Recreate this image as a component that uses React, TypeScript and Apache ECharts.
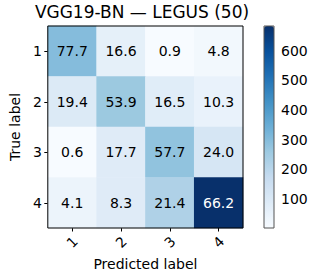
import React, { useEffect, useRef } from "react";
import * as echarts from "echarts";

const categories = ["1", "2", "3", "4"];
// counts (drive colour), rows = true label, cols = predicted label
const counts = [
  [300, 64, 4, 19],
  [94, 262, 80, 50],
  [3, 86, 280, 116],
  [42, 86, 221, 683],
];
// percentages shown in the cells
const percents = [
  [77.7, 16.6, 0.9, 4.8],
  [19.4, 53.9, 16.5, 10.3],
  [0.6, 17.7, 57.7, 24.0],
  [4.1, 8.3, 21.4, 66.2],
];
const colorbarTicks = [100, 200, 300, 400, 500, 600];
const titleText = "VGG19-BN — LEGUS (50)";

const BLUES = [
  "#f7fbff", "#deebf7", "#c6dbef", "#9ecae1", "#6baed6",
  "#4292c6", "#2171b5", "#08519c", "#08306b",
];
const FONT = "DejaVu Sans";

export default function App() {
  const ref = useRef<HTMLDivElement>(null);
  useEffect(() => {
    if (!ref.current) return;
    const chart = echarts.init(ref.current, null, { renderer: "svg" });
    const flat = counts.flat();
    const vmin = Math.min(...flat);
    const vmax = Math.max(...flat);
    const data: any[] = [];
    counts.forEach((row, r) =>
      row.forEach((c, col) => {
        data.push({
          value: [col, r, c],
          label: { color: c > vmax / 2 ? "#ffffff" : "#000000" },
        });
      })
    );
    chart.setOption({
      animation: false,
      backgroundColor: "#ffffff",
      textStyle: { fontFamily: FONT },
      title: {
        text: titleText,
        left: 142,
        textAlign: "center",
        top: 3,
        padding: 0,
        textStyle: { fontFamily: FONT, fontSize: 17, fontWeight: "normal", color: "#000" },
      },
      grid: [
        {
          left: 42, top: 26, width: 201, height: 202,
          show: true, borderColor: "#000", borderWidth: 1,
          backgroundColor: "transparent", z: 3,
        },
        {
          left: 264, top: 26, width: 10, height: 202,
          show: true, borderColor: "#555", borderWidth: 1,
          backgroundColor: "transparent", z: 10,
        },
      ],
      xAxis: [
        {
          type: "category",
          data: categories,
          gridIndex: 0,
          axisLine: { show: false },
          axisTick: { show: true, alignWithLabel: true, length: 3.5, lineStyle: { color: "#000" } },
          axisLabel: {
            rotate: 45, align: "center", verticalAlign: "middle", margin: 14,
            fontSize: 14, color: "#000", fontFamily: FONT,
          },
          name: "Predicted label",
          nameLocation: "middle",
          nameGap: 23,
          nameTextStyle: { fontSize: 14, color: "#000", fontFamily: FONT },
          splitLine: { show: false },
        },
        { type: "value", gridIndex: 1, show: false, min: 0, max: 1 },
      ],
      yAxis: [
        {
          type: "category",
          data: categories,
          inverse: true,
          gridIndex: 0,
          axisLine: { show: false },
          axisTick: { show: true, alignWithLabel: true, length: 3.5, lineStyle: { color: "#000" } },
          axisLabel: { margin: 6, fontSize: 14, color: "#000", fontFamily: FONT },
          name: "True label",
          nameLocation: "middle",
          nameGap: 23,
          nameTextStyle: { fontSize: 14, color: "#000", fontFamily: FONT },
          splitLine: { show: false },
        },
        {
          type: "value",
          gridIndex: 1,
          position: "right",
          min: vmin,
          max: vmax,
          axisLine: { show: false },
          axisTick: {
            show: true, length: 3.5, customValues: colorbarTicks,
            lineStyle: { color: "#000" },
          },
          axisLabel: {
            margin: 7, fontSize: 14, color: "#000", fontFamily: FONT,
            customValues: colorbarTicks,
          },
          splitLine: { show: false },
        },
      ],
      visualMap: {
        type: "continuous",
        seriesIndex: 0,
        min: vmin,
        max: vmax,
        calculable: false,
        orient: "vertical",
        left: 264,
        top: 26,
        padding: 0,
        itemWidth: 10,
        itemHeight: 202,
        text: ["", ""],
        showLabel: false,
        inRange: { color: BLUES },
        hoverLink: false,
      },
      series: [
        {
          type: "heatmap",
          xAxisIndex: 0,
          yAxisIndex: 0,
          data,
          label: {
            show: true,
            fontSize: 14,
            fontFamily: FONT,
            formatter: (p: any) =>
              percents[p.data.value[1]][p.data.value[0]].toFixed(1),
          },
          emphasis: { disabled: true },
        },
      ],
    });
    return () => chart.dispose();
  }, []);
  return (
    <div
      ref={ref}
      style={{ position: "fixed", left: 0, top: 0, width: 316, height: 277 }}
    />
  );
}
